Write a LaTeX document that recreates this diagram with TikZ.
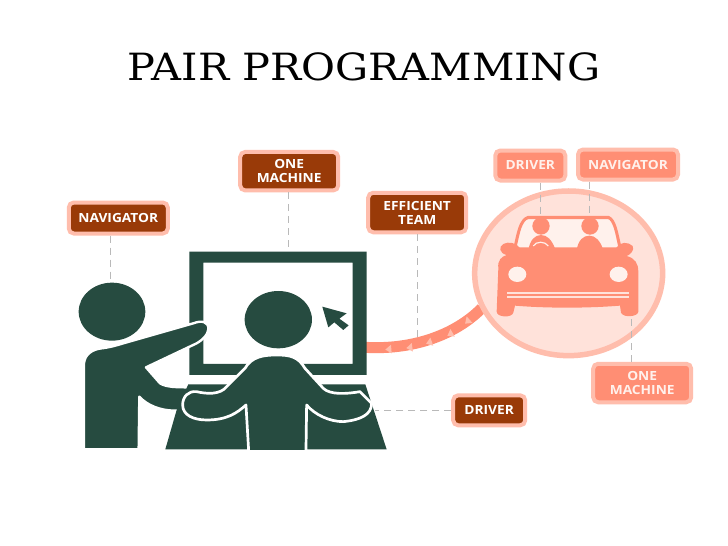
\documentclass[tikz,border=0pt]{standalone}
\usepackage{fontspec}
\setmainfont{DejaVu Serif}
\newfontfamily\titlefont[FakeStretch=1.105]{DejaVu Serif}
\newfontfamily\lblfont[FakeStretch=1.09]{Open Sans}
\definecolor{dk}{HTML}{264B40}
\definecolor{rust}{HTML}{993A08}
\definecolor{ringc}{HTML}{FFBDAC}
\definecolor{coral}{HTML}{FF8E74}
\definecolor{pale}{HTML}{FFE2DA}
\definecolor{paler}{HTML}{FFF1EC}
\definecolor{dashc}{HTML}{B9B9B9}
\tikzset{
  lbl/.style={rounded corners=5pt,line width=4pt,align=center,inner sep=0pt,
    font=\lblfont\bfseries\fontsize{12.6}{14}\selectfont},
  lbldark/.style={lbl,fill=rust,draw=ringc,text=white},
  lbllight/.style={lbl,fill=coral,draw=ringc,text=paler},
  dashline/.style={draw=dashc,line width=0.7pt,dash pattern=on 7pt off 5pt},
  zoomA/.style={shift={(60,240)},x=0.3333pt,y=-0.3333pt},
  zoomB/.style={shift={(460,140)},x=0.3333pt,y=-0.3333pt},
  zoomC/.style={shift={(350,300)},x=0.3333pt,y=-0.3333pt},
}
\begin{document}
\begin{tikzpicture}[x=1pt,y=-1pt]
\useasboundingbox (0,0) rectangle (728,546);
\fill[white] (0,0) rectangle (728,546);
\node[font=\titlefont\fontsize{37.5}{42}\selectfont,inner sep=0pt] (title) at (364,67) {PAIR PROGRAMMING};

% link band from the monitor to the car
\begin{scope}[zoomC]
\draw[coral,line width=11pt] (45,142) .. controls (180,150) and (310,110) .. (395,25);
\foreach \px/\py/\rr in {115/148/5,178/143/8,237/128/20,300/103/30,352/65/42}{
  \fill[ringc,shift={(\px,\py)},rotate=\rr] (-9,0) -- (9,-13) -- (9,13) -- cycle;
}
\end{scope}

% car circle
\begin{scope}[zoomB]
\filldraw[fill=pale,draw=ringc,line width=5.5pt] (326,400) ellipse [x radius=282,y radius=247];
\fill[paler] (185,240) -- (460,240) -- (475,330) -- (165,330) -- cycle;
\draw[coral,line width=3pt,line join=round] (165,322) .. controls (175,280) and (180,240) .. (205,232) -- (445,232) .. controls (465,240) and (470,280) .. (480,322);
\fill[coral] (243,258) circle (26);
\fill[coral] (390,258) circle (26);
\fill[coral] (205,330) .. controls (210,300) and (225,285) .. (243,285) .. controls (262,285) and (275,300) .. (285,325) -- cycle;
\fill[coral] (350,330) .. controls (355,300) and (370,287) .. (388,287) .. controls (405,287) and (420,300) .. (430,330) -- cycle;
\draw[paler,line width=1.2pt] (220,318) .. controls (228,303) and (255,303) .. (265,318);
\fill[coral] (115,385) .. controls (112,360) and (125,350) .. (140,345) .. controls (118,340) and (115,320) .. (130,312) .. controls (145,303) and (170,310) .. (178,322)
  -- (470,322) .. controls (480,305) and (505,305) .. (518,318) .. controls (525,330) and (510,345) .. (500,348) .. controls (525,355) and (535,370) .. (535,395)
  -- (535,515) .. controls (535,530) and (490,535) .. (483,518) -- (480,497) .. controls (380,505) and (260,505) .. (165,497) -- (160,518) .. controls (155,535) and (110,532) .. (110,515) -- cycle;
\fill[paler] (172,403) ellipse [x radius=27,y radius=23];
\fill[paler] (476,403) ellipse [x radius=27,y radius=23];
\fill[pale] (140,456) rectangle (506,461);
\fill[pale] (140,468) rectangle (506,473);
\coordinate (drvEnd) at (241,225);
\coordinate (navEndB) at (388,225);
\coordinate (oneEndB) at (515,530);
\end{scope}

% monitor
\begin{scope}[zoomA]
\fill[dk,even odd rule] (388,35) rectangle (920,405) (430,68) rectangle (878,372);
% pointing person
\filldraw[fill=dk,draw=white,line width=2.4pt,line join=round]
 (72,628) -- (72,370) .. controls (74,345) and (95,328) .. (125,325) .. controls (150,322) and (170,316) .. (190,310)
 -- (400,250) .. controls (425,240) and (447,245) .. (445,268) .. controls (443,285) and (430,298) .. (410,310)
 -- (258,382) -- (300,430) .. controls (320,442) and (350,442) .. (390,442) -- (390,512) -- (345,512) .. controls (300,512) and (260,495) .. (238,470)
 -- (236,628) -- cycle;
\fill[dk] (156,215) ellipse [x radius=100,y radius=87];
% desk
\fill[dk] (385,433) -- (916,433) -- (980,628) -- (316,628) -- (350,510) -- cycle;
% cursor
\fill[dk] (787,200) -- (860,220) -- (838,236) -- (866,256) -- (850,270) -- (823,247) -- (805,262) -- cycle;
% centre person
\fill[dk] (655,239) ellipse [x radius=101,y radius=86];
\filldraw[fill=dk,draw=white,line width=2.7pt,line join=round]
 (566,632) -- (558,495) .. controls (530,520) and (500,540) .. (440,540) .. controls (400,540) and (368,525) .. (368,495)
 .. controls (368,470) and (385,452) .. (410,455) .. controls (440,462) and (480,465) .. (500,440)
 -- (555,385) .. controls (575,350) and (610,345) .. (650,345) .. controls (690,345) and (715,350) .. (735,385)
 -- (790,445) .. controls (810,465) and (860,462) .. (900,455) -- (935,490) .. controls (935,525) and (900,540) .. (850,545) .. controls (810,545) and (765,525) .. (740,495)
 -- (738,632);
\fill[white] (300,629) rectangle (1000,640);
\coordinate (navEndA) at (150,122);
\coordinate (oneEndA) at (685,22);
\coordinate (drvEndA) at (945,510);
\end{scope}
\begin{scope}[zoomC]
\coordinate (effEnd) at (203,115);
\end{scope}

% labels
\node[lbldark,minimum width=99pt,minimum height=31pt] (navL) at (118.3,218) {NAVIGATOR};
\node[lbldark,minimum width=98pt,minimum height=38.5pt] (oneL) at (289.2,171.2) {ONE\\MACHINE};
\node[lbldark,minimum width=98pt,minimum height=39.5pt] (effL) at (417.2,212.5) {EFFICIENT\\TEAM};
\node[lbldark,minimum width=72pt,minimum height=30pt] (drvL) at (489.2,410.3) {DRIVER};
\node[lbllight,minimum width=70pt,minimum height=30pt] (drvR) at (530.3,165.5) {DRIVER};
\node[lbllight,minimum width=100pt,minimum height=30pt] (navR) at (628,164.5) {NAVIGATOR};
\node[lbllight,minimum width=98pt,minimum height=38.5pt] (oneR) at (642.2,383) {ONE\\MACHINE};

% dashed leaders
\draw[dashline] (navL.south -| navEndA) -- (navEndA);
\draw[dashline] (oneL.south -| oneEndA) -- (oneEndA);
\draw[dashline] (effL.south -| effEnd) -- (effEnd);
\draw[dashline] (drvL.west) -- (drvL.west -| drvEndA);
\draw[dashline] (drvR.south -| drvEnd) -- (drvEnd);
\draw[dashline] (navR.south -| navEndB) -- (navEndB);
\draw[dashline] (oneR.north -| oneEndB) -- (oneEndB);
\end{tikzpicture}
\end{document}
